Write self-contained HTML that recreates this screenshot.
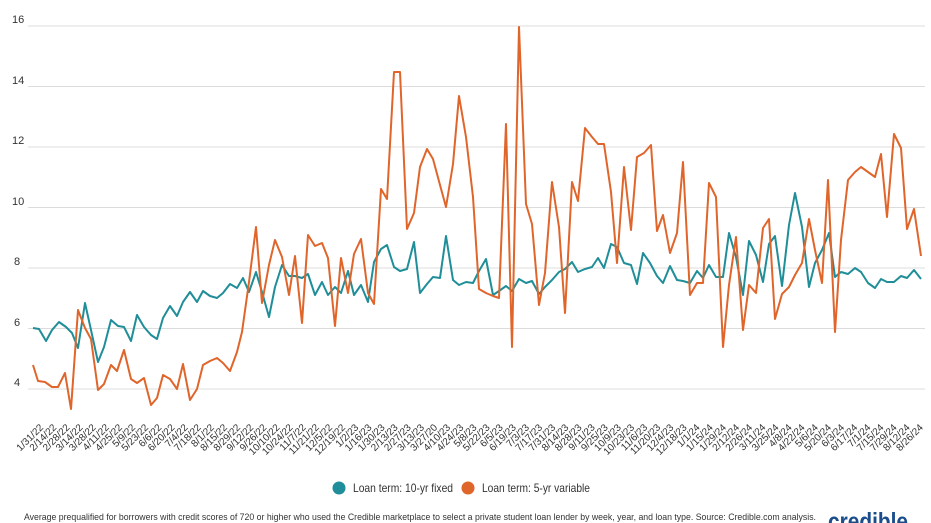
<!DOCTYPE html>
<html><head><meta charset="utf-8"><style>
html,body{margin:0;padding:0;background:#fff;}
svg{display:block;font-family:"Liberation Sans",sans-serif;}
</style></head><body>
<svg width="931" height="523" viewBox="0 0 931 523" xmlns="http://www.w3.org/2000/svg">
<g stroke="#dcdcdc" stroke-width="1">
<line x1="28" x2="925" y1="26" y2="26"/><line x1="28" x2="925" y1="86.5" y2="86.5"/><line x1="28" x2="925" y1="147" y2="147"/><line x1="28" x2="925" y1="207.5" y2="207.5"/><line x1="28" x2="925" y1="268" y2="268"/><line x1="28" x2="925" y1="328.5" y2="328.5"/><line x1="28" x2="925" y1="389" y2="389"/>
</g>
<g font-size="11" fill="#333">
<text x="12" y="23">16</text><text x="12" y="84">14</text><text x="12" y="144">12</text><text x="12" y="205">10</text><text x="14" y="265">8</text><text x="14" y="326">6</text><text x="14" y="386">4</text>
</g>
<polyline fill="none" stroke="#1f8e98" stroke-width="2" stroke-linejoin="round" points="33,328 39,329 46,341 52,330 59,322 66,327 72,333 78,348 85,303 91,330 98,362 104,347 111,320 118,326 124,327 131,341 137,315 144,327 151,335 157,339 163,318 170,306 177,316 183,302 190,292 197,302 203,291 210,296 217,298 223,293 230,284 237,288 243,278 249,292 256,272 262,292 269,317 275,287 282,265 289,276 295,276 302,278 308,274 315,295 322,282 328,295 335,287 341,293 348,271 354,295 361,285 368,302 374,262 381,249 387,245 394,267 400,271 407,269 414,242 420,293 427,284 433,277 440,278 446,236 453,280 459,285 466,282 473,283 479,271 486,259 493,295 499,291 506,286 512,291 519,279 526,283 532,281 539,294 545,287 552,280 559,272 565,269 572,262 578,272 585,269 592,267 598,258 604,268 611,244 617,247 624,263 631,265 637,284 643,253 650,263 657,276 663,283 670,266 677,280 683,281 690,283 697,271 703,278 709,265 716,277 723,277 729,233 736,257 743,295 749,241 756,255 763,282 769,244 775,236 782,286 789,225 795,193 802,227 809,287 815,263 822,250 829,233 835,277 841,272 848,274 855,268 861,272 868,283 875,288 881,279 887,282 894,282 901,276 907,278 914,270 921,279"/>
<polyline fill="none" stroke="#e0652b" stroke-width="2" stroke-linejoin="round" points="33,365 38,381 45,382 52,387 58,387 65,373 71,409 78,310 85,328 91,339 98,390 104,384 111,365 117,371 124,350 131,379 137,383 144,378 151,405 157,398 163,375 170,379 177,389 183,364 190,400 197,389 203,365 210,361 217,358 223,363 230,371 237,352 242,332 249,282 256,227 262,303 269,265 275,240 282,257 289,295 295,256 302,323 308,235 315,246 322,243 328,258 335,326 341,258 348,293 354,254 361,239 368,293 374,304 381,189 387,199 394,72 400,72 407,229 414,213 420,167 427,149 433,159 440,185 446,207 453,164 459,96 466,137 473,197 479,289 486,293 493,296 499,298 506,124 512,347 519,27 526,204 532,224 539,305 545,273 552,182 559,227 565,313 572,182 578,201 585,128 592,137 598,144 604,144 611,192 617,263 624,167 631,230 637,157 644,153 651,145 657,231 663,215 670,253 677,233 683,162 690,295 697,283 703,283 709,183 716,197 723,347 729,285 736,237 743,330 749,285 756,293 763,228 769,219 775,319 782,294 789,287 795,275 802,263 809,219 815,250 822,283 828,180 835,332 841,240 848,180 855,172 861,167 868,172 875,177 881,154 887,217 894,134 901,148 907,229 914,209 921,256"/>
<g font-size="10" fill="#333" text-anchor="end">
<text transform="translate(44,428) rotate(-45)">1/31/22</text>
<text transform="translate(57.1,428) rotate(-45)">2/14/22</text>
<text transform="translate(70.3,428) rotate(-45)">2/28/22</text>
<text transform="translate(83.4,428) rotate(-45)">3/14/22</text>
<text transform="translate(96.5,428) rotate(-45)">3/28/22</text>
<text transform="translate(109.7,428) rotate(-45)">4/11/22</text>
<text transform="translate(122.8,428) rotate(-45)">4/25/22</text>
<text transform="translate(135.9,428) rotate(-45)">5/9/22</text>
<text transform="translate(149,428) rotate(-45)">5/23/22</text>
<text transform="translate(162.2,428) rotate(-45)">6/6/22</text>
<text transform="translate(175.3,428) rotate(-45)">6/20/22</text>
<text transform="translate(188.4,428) rotate(-45)">7/4/22</text>
<text transform="translate(201.6,428) rotate(-45)">7/18/22</text>
<text transform="translate(214.7,428) rotate(-45)">8/1/22</text>
<text transform="translate(227.8,428) rotate(-45)">8/15/22</text>
<text transform="translate(241,428) rotate(-45)">8/29/22</text>
<text transform="translate(254.1,428) rotate(-45)">9/12/22</text>
<text transform="translate(267.2,428) rotate(-45)">9/26/22</text>
<text transform="translate(280.3,428) rotate(-45)">10/10/22</text>
<text transform="translate(293.5,428) rotate(-45)">10/24/22</text>
<text transform="translate(306.6,428) rotate(-45)">11/7/22</text>
<text transform="translate(319.7,428) rotate(-45)">11/21/22</text>
<text transform="translate(332.9,428) rotate(-45)">12/5/22</text>
<text transform="translate(346,428) rotate(-45)">12/19/22</text>
<text transform="translate(359.1,428) rotate(-45)">1/2/23</text>
<text transform="translate(372.3,428) rotate(-45)">1/16/23</text>
<text transform="translate(385.4,428) rotate(-45)">1/30/23</text>
<text transform="translate(398.5,428) rotate(-45)">2/13/23</text>
<text transform="translate(411.6,428) rotate(-45)">2/27/23</text>
<text transform="translate(424.8,428) rotate(-45)">3/13/23</text>
<text transform="translate(437.9,428) rotate(-45)">3/27/20</text>
<text transform="translate(451,428) rotate(-45)">4/10/23</text>
<text transform="translate(464.2,428) rotate(-45)">4/24/23</text>
<text transform="translate(477.3,428) rotate(-45)">5/8/23</text>
<text transform="translate(490.4,428) rotate(-45)">5/22/23</text>
<text transform="translate(503.6,428) rotate(-45)">6/5/23</text>
<text transform="translate(516.7,428) rotate(-45)">6/19/23</text>
<text transform="translate(529.8,428) rotate(-45)">7/3/23</text>
<text transform="translate(542.9,428) rotate(-45)">7/17/23</text>
<text transform="translate(556.1,428) rotate(-45)">7/31/23</text>
<text transform="translate(569.2,428) rotate(-45)">8/14/23</text>
<text transform="translate(582.3,428) rotate(-45)">8/28/23</text>
<text transform="translate(595.5,428) rotate(-45)">9/11/23</text>
<text transform="translate(608.6,428) rotate(-45)">9/25/23</text>
<text transform="translate(621.7,428) rotate(-45)">10/9/23</text>
<text transform="translate(634.9,428) rotate(-45)">10/23/23</text>
<text transform="translate(648,428) rotate(-45)">11/6/23</text>
<text transform="translate(661.1,428) rotate(-45)">11/20/23</text>
<text transform="translate(674.2,428) rotate(-45)">12/4/23</text>
<text transform="translate(687.4,428) rotate(-45)">12/18/23</text>
<text transform="translate(700.5,428) rotate(-45)">1/1/24</text>
<text transform="translate(713.6,428) rotate(-45)">1/15/24</text>
<text transform="translate(726.8,428) rotate(-45)">1/29/24</text>
<text transform="translate(739.9,428) rotate(-45)">2/12/24</text>
<text transform="translate(753,428) rotate(-45)">2/26/24</text>
<text transform="translate(766.2,428) rotate(-45)">3/11/24</text>
<text transform="translate(779.3,428) rotate(-45)">3/25/24</text>
<text transform="translate(792.4,428) rotate(-45)">4/8/24</text>
<text transform="translate(805.5,428) rotate(-45)">4/22/24</text>
<text transform="translate(818.7,428) rotate(-45)">5/6/24</text>
<text transform="translate(831.8,428) rotate(-45)">5/20/24</text>
<text transform="translate(844.9,428) rotate(-45)">6/3/24</text>
<text transform="translate(858.1,428) rotate(-45)">6/17/24</text>
<text transform="translate(871.2,428) rotate(-45)">7/1/24</text>
<text transform="translate(884.3,428) rotate(-45)">7/15/24</text>
<text transform="translate(897.5,428) rotate(-45)">7/29/24</text>
<text transform="translate(910.6,428) rotate(-45)">8/12/24</text>
<text transform="translate(923.7,428) rotate(-45)">8/26/24</text>
</g>
<circle cx="339" cy="488" r="6.5" fill="#1f8e98"/>
<text x="353" y="492" font-size="12" fill="#333" textLength="100" lengthAdjust="spacingAndGlyphs">Loan term: 10-yr fixed</text>
<circle cx="468" cy="488" r="6.5" fill="#e0652b"/>
<text x="482" y="492" font-size="12" fill="#333" textLength="108" lengthAdjust="spacingAndGlyphs">Loan term: 5-yr variable</text>
<text x="24" y="520" font-size="9.3" fill="#333" textLength="792" lengthAdjust="spacingAndGlyphs">Average prequalified for borrowers with credit scores of 720 or higher who used the Credible marketplace to select a private student loan lender by week, year, and loan type. Source: Credible.com analysis.</text>
<text x="828" y="530" font-size="25" font-weight="bold" fill="#1b4d8c" textLength="80" lengthAdjust="spacingAndGlyphs">credible</text>
</svg>
</body></html>
